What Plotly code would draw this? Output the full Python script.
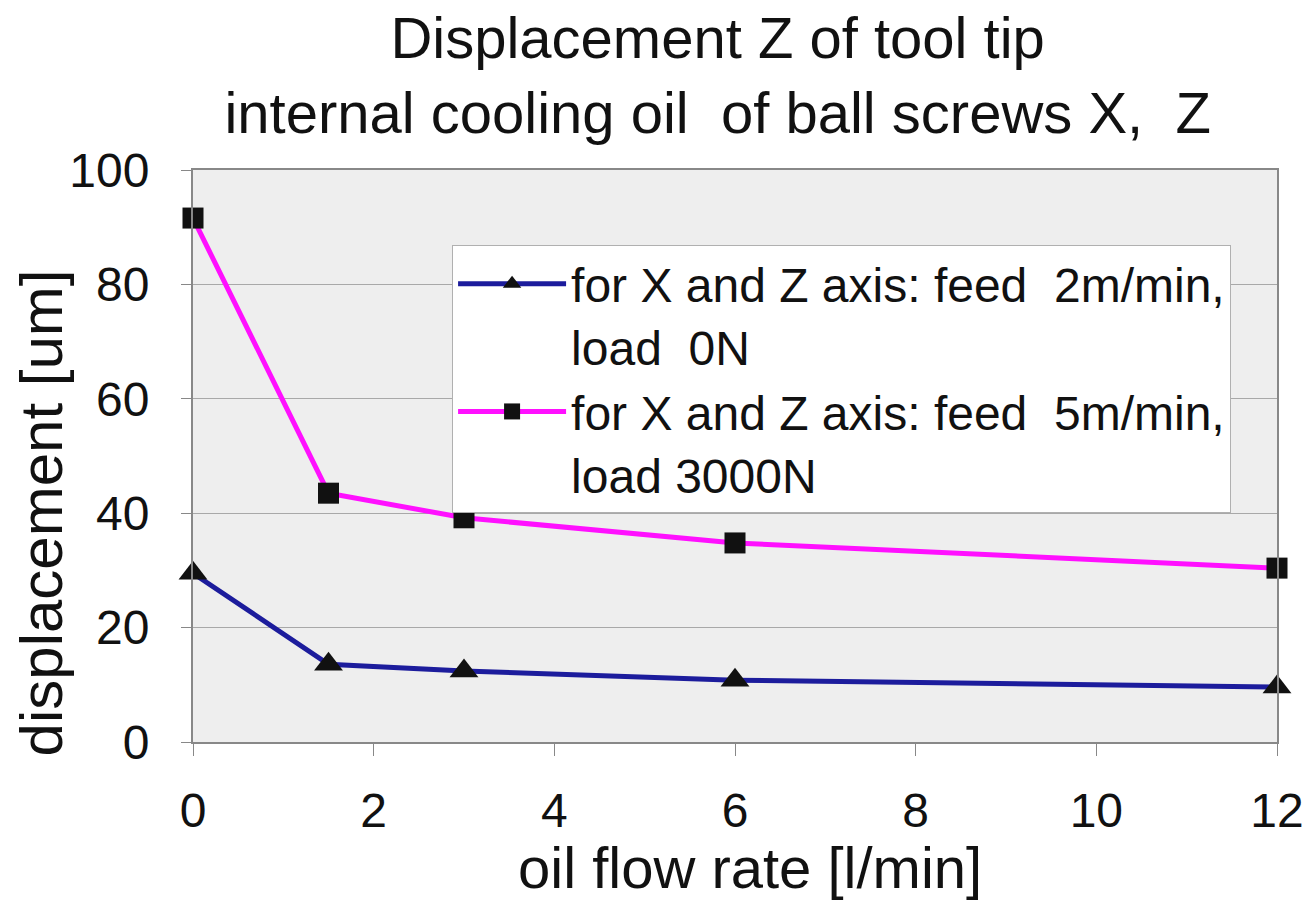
import plotly.graph_objects as go

flow = [0, 1.5, 3, 6, 12]
disp_2m_0N = [29.5, 13.6, 12.4, 10.8, 9.6]
disp_5m_3000N = [91.6, 43.5, 39.2, 34.8, 30.4]
name_1 = "for X and Z axis: feed  2m/min,<br>load  0N"
name_2 = "for X and Z axis: feed  5m/min,<br>load 3000N"
title_text = "Displacement Z of tool tip<br>internal cooling oil  of ball screws X,  Z"
x_title = "oil flow rate [l/min]"
y_title = "displacement [um]"

FONT = "Liberation Sans, Arial, sans-serif"

fig = go.Figure()
fig.add_trace(go.Scatter(
    x=flow, y=disp_2m_0N, name=name_1, mode="lines+markers", cliponaxis=False,
    line=dict(color="#1c1c9c", width=5),
    marker=dict(symbol="triangle-up", size=25, color="#111111"),
))
fig.add_trace(go.Scatter(
    x=flow, y=disp_5m_3000N, name=name_2, mode="lines+markers", cliponaxis=False,
    line=dict(color="#ff10ff", width=5),
    marker=dict(symbol="square", size=21, color="#111111"),
))

fig.update_layout(
    width=1309, height=901,
    margin=dict(l=193, r=32, t=170, b=159),
    paper_bgcolor="white",
    plot_bgcolor="#eeeeee",
    font=dict(family=FONT, color="#111111", size=48),
    title=dict(text=title_text, x=0.484, xref="paper", xanchor="center", y=0.936, yanchor="top",
               font=dict(size=58, family=FONT, color="#111111")),
    showlegend=True,
    legend=dict(
        x=0.239, y=0.869, xanchor="left", yanchor="top",
        bgcolor="white", bordercolor="#b0b0b0", borderwidth=1,
        font=dict(size=48, family=FONT, color="#111111"),
        valign="top", tracegroupgap=0, itemwidth=108,
    ),
    xaxis=dict(
        range=[0, 12], dtick=2, tick0=0, showgrid=False, zeroline=False, automargin=False,
        showline=True, linecolor="#888888", linewidth=2, mirror=True,
        ticks="outside", ticklen=12, tickcolor="#888888", tickwidth=1,
        tickfont=dict(size=48), ticklabelstandoff=13,
    ),
    yaxis=dict(
        range=[0, 100], dtick=20, tick0=0, showgrid=True, gridcolor="#a8a8a8", gridwidth=1,
        zeroline=False, showline=True, linecolor="#888888", linewidth=2, mirror=True,
        automargin=False,
        ticks="outside", ticklen=10, tickcolor="#888888", tickwidth=1,
        tickfont=dict(size=48), ticklabelstandoff=22,
    ),
    annotations=[
        dict(text=x_title, xref="paper", yref="paper", x=0.514, y=-0.220,
             xanchor="center", yanchor="middle", showarrow=False,
             font=dict(size=58, family=FONT, color="#111111")),
        dict(text=y_title, xref="paper", yref="paper", x=-0.140, y=0.40,
             xanchor="center", yanchor="middle", showarrow=False, textangle=-90,
             font=dict(size=60, family=FONT, color="#111111")),
    ],
)

fig.write_html("out.html", config={"displayModeBar": False},
               post_script="document.body.style.margin='0';")
